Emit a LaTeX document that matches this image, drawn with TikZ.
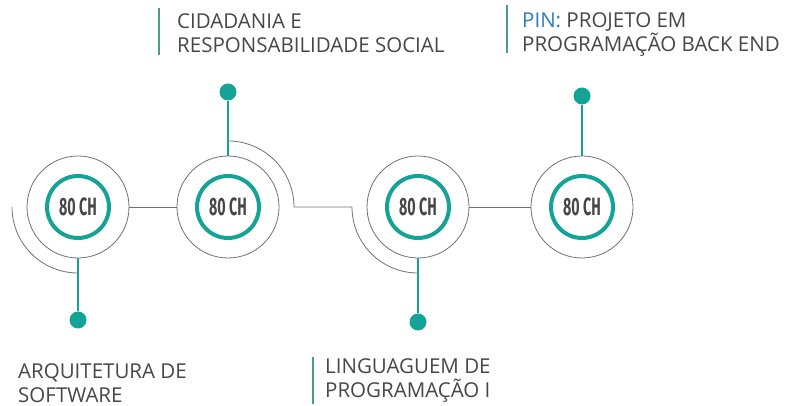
\documentclass[tikz,border=0pt]{standalone}
\usepackage{fontspec}
\setmainfont{Open Sans}
\newfontfamily\chfont[FakeStretch=0.57]{Fira Sans}

\definecolor{tealc}{HTML}{14A396}
\definecolor{ringgray}{HTML}{707070}
\definecolor{txtgray}{HTML}{474747}
\definecolor{pinblue}{HTML}{2E7DC0}
\definecolor{bargreen}{HTML}{4E9A90}

\tikzset{
  outer/.style={circle,draw=ringgray,line width=.8pt,minimum size=102pt,inner sep=0pt,outer sep=0pt},
  ring/.style={circle,draw=tealc,line width=4pt,minimum size=62pt,inner sep=0pt,text=txtgray,font=\chfont\bfseries\fontsize{25}{25}\selectfont},
  dot/.style={circle,fill=tealc,minimum size=17pt,inner sep=0pt},
  stem/.style={tealc,line width=1.8pt},
  arcline/.style={ringgray,line width=.8pt},
  subject/.style={anchor=north west,align=left,inner sep=0pt,text=txtgray,font=\fontsize{20.5}{24.5}\selectfont},
  bar/.style={bargreen,line width=1.6pt}
}

\begin{document}
\begin{tikzpicture}[x=1pt,y=1pt]
    \useasboundingbox (0,0) rectangle (788,406);

    \foreach \i/\x in {1/78,2/228,3/418,4/582}{
    \node[outer] (c\i) at (\x,199) {};
    \node[ring] (r\i) at (c\i) {80 CH};
    }
    \foreach \i/\x/\y in {1/78/86,2/228/314,3/418/84,4/582/310}
    \node[dot] (d\i) at (\x,\y) {};

    \draw[arcline] (c1.east) -- (c2.west);
    \draw[arcline] (c3.east) -- (c4.west);
    \draw[arcline] (c1.center) ++(180:66pt) arc[start angle=180,end angle=270,radius=66pt];
    \draw[arcline] (c2.center) ++(90:66pt) arc[start angle=90,end angle=0,radius=66pt]
      -- ([xshift=-66pt]c3.center) arc[start angle=180,end angle=270,radius=66pt];

    \draw[stem] (c1.south) -- (d1);
    \draw[stem] (c2.north) -- (d2);
    \draw[stem] (c3.south) -- (d3);
    \draw[stem] (c4.north) -- (d4);

    \node[subject] (l1) at (18,43) {ARQUITETURA DE\\SOFTWARE};
    \node[subject] (l2) at (177,393) {CIDADANIA E\\RESPONSABILIDADE SOCIAL};
    \node[subject] (l3) at (325,48) {LINGUAGUEM DE\\PROGRAMAÇÃO I};
    \node[subject] (l4) at (522,394) {\textcolor{pinblue}{PIN:} PROJETO EM\\PROGRAMAÇÃO BACK END};

    \draw[bar] ([xshift=-18pt,yshift=5pt]l2.north west) -- ++(0,-47pt);
    \draw[bar] ([xshift=-12pt,yshift=1pt]l3.north west) -- ++(0,-47pt);
    \draw[bar] ([xshift=-15pt,yshift=7pt]l4.north west) -- ++(0,-48pt);
\end{tikzpicture}
\end{document}
